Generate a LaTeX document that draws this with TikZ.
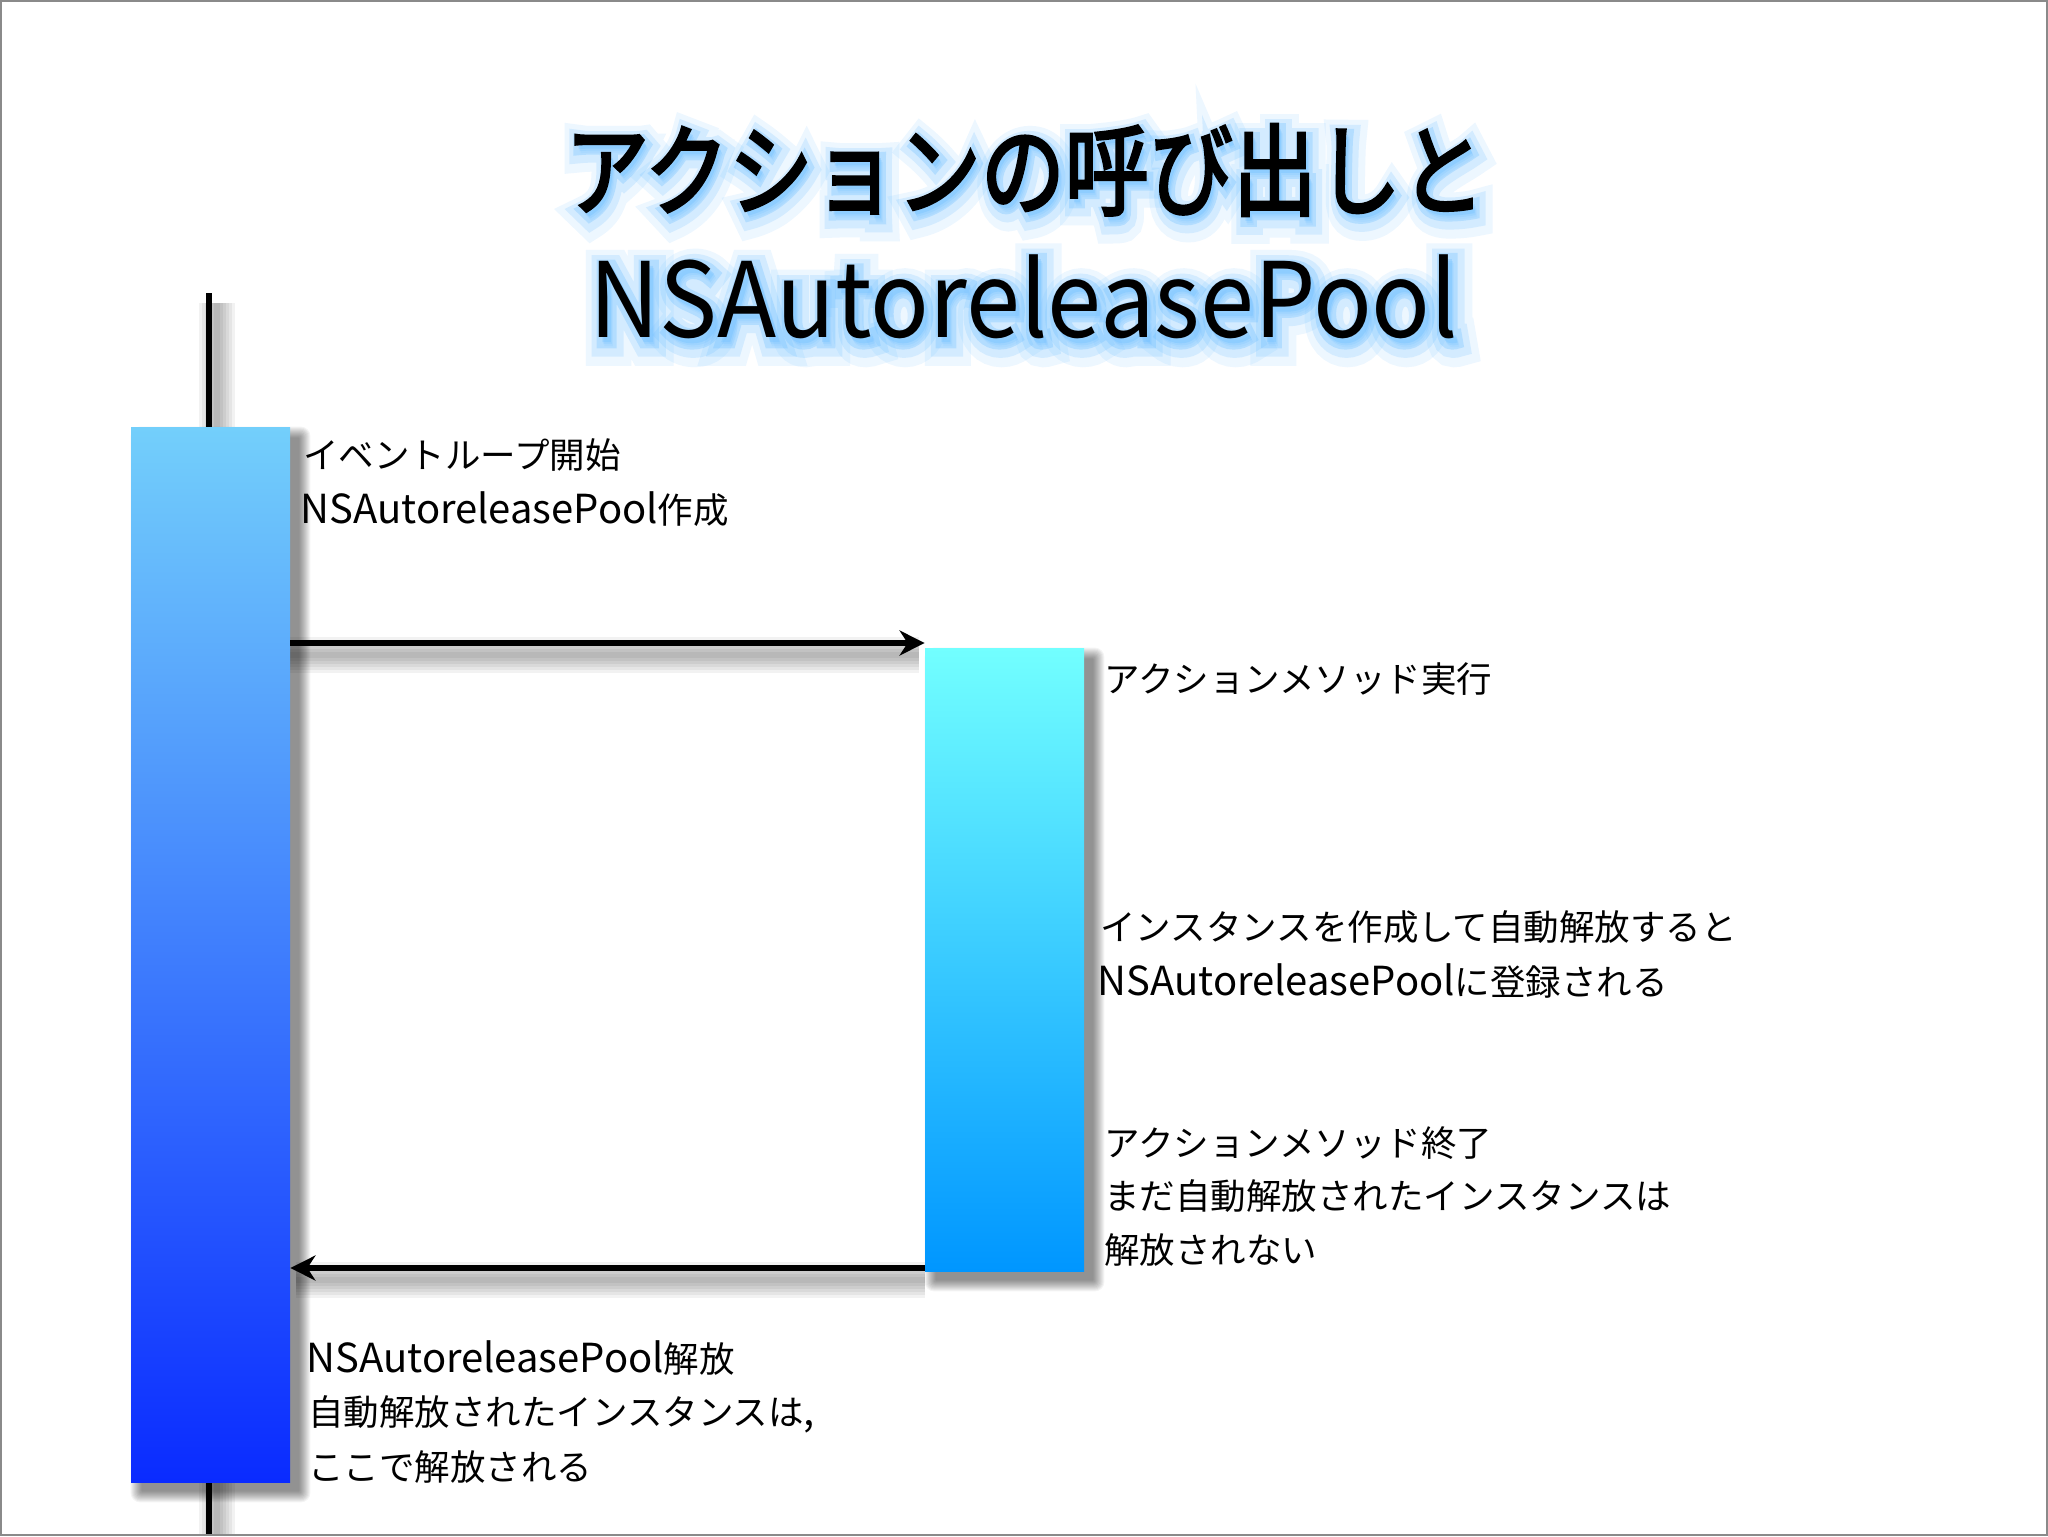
\documentclass[tikz,border=0pt]{standalone}
\usepackage{fontspec}
\usepackage{graphicx}
\setmainfont{Noto Sans CJK JP}
\newfontfamily\titlefont[FakeBold=3]{Noto Sans CJK JP}
\newfontfamily\glowA[FakeBold=12]{Noto Sans CJK JP}
\newfontfamily\glowB[FakeBold=24]{Noto Sans CJK JP}
\newfontfamily\glowC[FakeBold=38]{Noto Sans CJK JP}
\usetikzlibrary{arrows.meta,calc}
\definecolor{lbtop}{HTML}{73CFFB}
\definecolor{lbbot}{HTML}{0A2BFF}
\definecolor{rbtop}{HTML}{72FFFF}
\definecolor{rbbot}{HTML}{0096FF}
\definecolor{glow}{HTML}{6CBEFF}
\definecolor{framegray}{HTML}{8A8A8A}
\newcommand\lat[1]{{\fontsize{20pt}{24pt}\selectfont #1}}
\newcommand\titleA{\scalebox{0.84}[1]{アクションの呼び出しと}}
\newcommand\titleB{\scalebox{0.935}[1]{NSAutoreleasePool}}
\pgfdeclarelayer{bglayer}
\pgfdeclarelayer{shadowlayer}
\pgfdeclarelayer{linelayer}
\pgfsetlayers{bglayer,shadowlayer,linelayer,main}
\tikzset{
  lbl/.style={anchor=base west, inner sep=0pt, font=\fontsize{17.75pt}{21pt}\selectfont},
  bar/.style={rectangle, inner sep=0pt, draw=none, minimum width=79.5pt},
  flow/.style={line width=3pt, -{Stealth[length=12.5pt,width=12.5pt,inset=4pt]}},
  lifeline/.style={line width=2.8pt},
  titlea/.style={inner sep=0pt, font=\fontsize{50pt}{60pt}\selectfont\titlefont},
  titleb/.style={inner sep=0pt, anchor=base, font=\fontsize{52pt}{60pt}\selectfont},
  shade/.style={black, opacity=0.045},
}
\begin{document}
\begin{tikzpicture}[x=0.5pt,y=-0.5pt]
\useasboundingbox (0,0) rectangle (2048,1536);
\begin{pgfonlayer}{bglayer}
  \fill[white] (0,0) rectangle (2048,1536);
\end{pgfonlayer}

% title glow
\begin{scope}[opacity=0.12]
  \node[titlea, text=glow, font=\fontsize{50pt}{60pt}\selectfont\glowC] (g1c) at (1030,179) {\titleA};
  \node[titleb, text=glow, font=\fontsize{52pt}{60pt}\selectfont\glowC] (g2c) at (1029,346) {\titleB};
\end{scope}
\begin{scope}[opacity=0.2]
  \node[titlea, text=glow, font=\fontsize{50pt}{60pt}\selectfont\glowB] (g1b) at (1029,177) {\titleA};
  \node[titleb, text=glow, font=\fontsize{52pt}{60pt}\selectfont\glowB] (g2b) at (1028,344) {\titleB};
\end{scope}
\begin{scope}[opacity=0.3]
  \node[titlea, text=glow, font=\fontsize{50pt}{60pt}\selectfont\glowA] (g1a) at (1028,175) {\titleA};
  \node[titleb, text=glow, font=\fontsize{52pt}{60pt}\selectfont\glowA] (g2a) at (1027,342) {\titleB};
\end{scope}
\node[titlea] (title1) at (1025,170) {\titleA};
\node[titleb] (title2) at (1024,337) {\titleB};

% bars
\node[bar, minimum height=527.5pt, top color=lbtop, bottom color=lbbot] (lbar) at (210.5,954.5) {};
\node[bar, minimum height=311.5pt, top color=rbtop, bottom color=rbbot] (rbar) at (1004.5,959.5) {};

% lifeline
\coordinate (ltop) at (209,293);
\coordinate (lbot) at (209,1536);
\begin{pgfonlayer}{linelayer}
  \draw[lifeline] (ltop) -- (lbot);
\end{pgfonlayer}

% arrows
\coordinate (a1) at (0,643);
\coordinate (a2) at (0,1268);
\draw[flow] (lbar.east |- a1) -- (rbar.west |- a1);
\draw[flow] (rbar.west |- a2) -- (lbar.east |- a2);

% shadows
\begin{pgfonlayer}{shadowlayer}
  \foreach \i in {1,...,12} {
    \fill[shade, rounded corners=\i*0.4pt] ($(lbar.north west)+(12-\i,12-\i)$) rectangle ($(lbar.south east)+(8+\i,8+\i)$);
    \fill[shade, rounded corners=\i*0.4pt] ($(rbar.north west)+(12-\i,12-\i)$) rectangle ($(rbar.south east)+(8+\i,8+\i)$);
  }
  \foreach \w in {3,6,9,12,15,18} {
    \draw[black, opacity=0.05, line width=\w pt] ($(ltop)+(8,10)$) -- ($(lbot)+(8,0)$);
    \draw[black, opacity=0.05, line width=\w pt] ($(lbar.east |- a1)+(0,12)$) -- ($(rbar.west |- a1)+(-6,12)$);
    \draw[black, opacity=0.05, line width=\w pt] ($(rbar.west |- a2)+(0,12)$) -- ($(lbar.east |- a2)+(6,12)$);
  }
\end{pgfonlayer}

% labels
\node[lbl] (l1) at (303,468) {イベントループ開始};
\node[lbl] (l2) at (300,523) {\lat{NSAutoreleasePool}作成};
\node[lbl] (r1) at (1104,692) {アクションメソッド実行};
\node[lbl] (r2) at (1100,940) {インスタンスを作成して自動解放すると};
\node[lbl] (r3) at (1097,995) {\lat{NSAutoreleasePool}に登録される};
\node[lbl] (r4) at (1104,1156) {アクションメソッド終了};
\node[lbl] (r5) at (1104,1209) {まだ自動解放されたインスタンスは};
\node[lbl] (r6) at (1104,1263) {解放されない};
\node[lbl] (b1) at (306,1372) {\lat{NSAutoreleasePool}解放};
\node[lbl] (b2) at (308,1425) {自動解放されたインスタンスは\lat{,}};
\node[lbl] (b3) at (308,1480) {ここで解放される};

% frame
\draw[framegray, line width=1pt] (1,1) rectangle (2047,1535);
\end{tikzpicture}
\end{document}
